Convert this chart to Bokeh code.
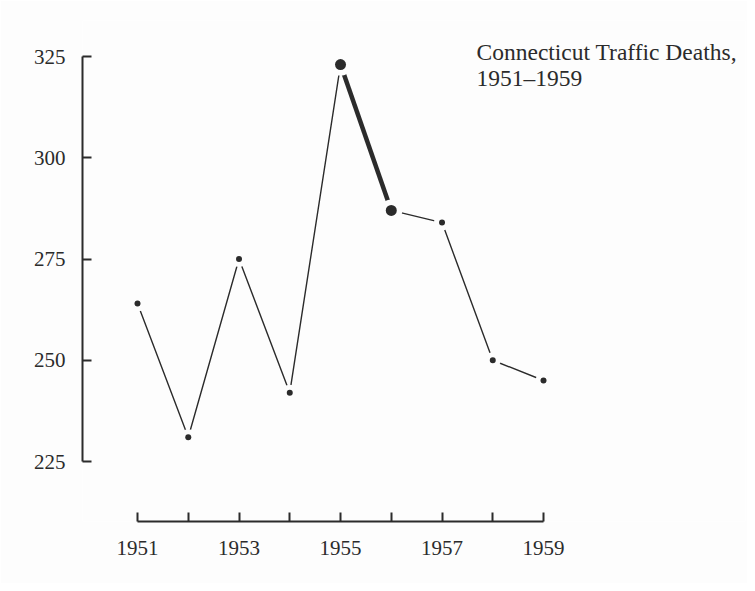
from bokeh.plotting import figure
from bokeh.models import Range1d, FixedTicker, Label, ColumnDataSource
from bokeh.embed import file_html
from bokeh.resources import INLINE

years = [1951, 1952, 1953, 1954, 1955, 1956, 1957, 1958, 1959]
deaths = [264, 231, 275, 242, 323, 287, 284, 250, 245]
y_ticks = [225, 250, 275, 300, 325]
x_labels = {1951: "1951", 1953: "1953", 1955: "1955", 1957: "1957", 1959: "1959"}
title_lines = ["Connecticut Traffic Deaths,", "1951\u20131959"]
highlight_years = [1955, 1956]
highlight_deaths = [323, 287]

INK = "#2b2b2b"
FONT = "Liberation Serif"

p = figure(width=747, height=583, output_backend="svg", toolbar_location=None,
           x_range=Range1d(1949.916, 1962.98), y_range=Range1d(210.19, 333.89),
           min_border_left=82, min_border_right=2, min_border_top=20, min_border_bottom=62)
p.outline_line_color = None
p.xgrid.visible = False
p.ygrid.visible = False
p.background_fill_color = "#fdfdfd"
p.border_fill_color = "#fdfdfd"

for ax in (p.xaxis[0], p.yaxis[0]):
    ax.axis_line_color = INK
    ax.axis_line_width = 2
    ax.major_tick_line_color = INK
    ax.major_tick_line_width = 2
    ax.minor_tick_line_color = None
    ax.major_tick_in = 9
    ax.major_tick_out = 0
    ax.major_label_text_font = FONT
    ax.major_label_text_font_size = "21px"
    ax.major_label_text_color = INK

p.xaxis.bounds = (1951, 1959)
p.xaxis.ticker = FixedTicker(ticks=years)
p.xaxis.major_label_overrides = {y: x_labels.get(y, "") for y in years}
p.xaxis.major_label_standoff = 19

p.yaxis.bounds = (225, 325)
p.yaxis.ticker = FixedTicker(ticks=y_ticks)
p.yaxis.major_label_standoff = 17

# thin line for all years
p.line(years, deaths, line_color=INK, line_width=1.4)
# thick highlighted segment
p.line(highlight_years, highlight_deaths, line_color=INK, line_width=4.5)

# white halos for gaps
small_src = ColumnDataSource(dict(x=[y for y in years if y not in highlight_years],
                                  y=[d for y, d in zip(years, deaths) if y not in highlight_years]))
big_src = ColumnDataSource(dict(x=highlight_years, y=highlight_deaths))
p.scatter("x", "y", source=small_src, size=16, fill_color="#fdfdfd", line_color=None)
p.scatter("x", "y", source=big_src, size=22, fill_color="#fdfdfd", line_color=None)
p.scatter("x", "y", source=small_src, size=6, fill_color=INK, line_color=None)
p.scatter("x", "y", source=big_src, size=11, fill_color=INK, line_color=None)

t1 = Label(x=1957.68, y=325.99, text=title_lines[0], text_font=FONT,
           text_font_size="23.5px", text_color=INK, text_baseline="alphabetic")
t2 = Label(x=1957.68, y=319.6, text=title_lines[1], text_font=FONT,
           text_font_size="23.5px", text_color=INK, text_baseline="alphabetic")
p.add_layout(t1)
p.add_layout(t2)

open("out.html", "w").write(file_html(p, INLINE))
